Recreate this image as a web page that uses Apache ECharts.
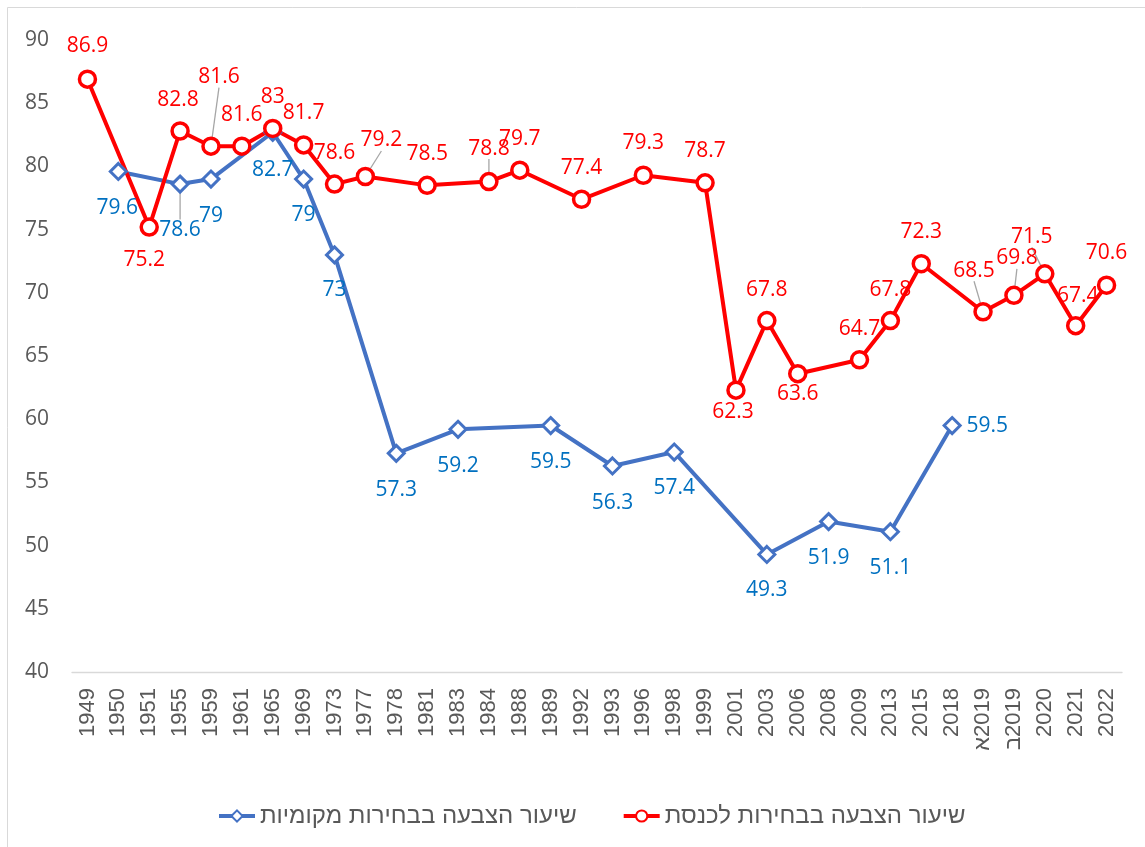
<!DOCTYPE html>
<html>
<head>
<meta charset="utf-8">
<script src="https://cdn.jsdelivr.net/npm/echarts@6/dist/echarts.min.js"></script>
<style>
  html, body { margin: 0; padding: 0; background: #fff; }
  #chart { width: 1145px; height: 847px; }
</style>
</head>
<body>
<div id="chart"></div>
<script>
// election years (x axis)
const years = ['1949', '1950', '1951', '1955', '1959', '1961', '1965', '1969', '1973', '1977',
  '1978', '1981', '1983', '1984', '1988', '1989', '1992', '1993', '1996', '1998',
  '1999', '2001', '2003', '2006', '2008', '2009', '2013', '2015', '2018', '2019א',
  '2019ב', '2020', '2021', '2022']

// turnout in local elections
const localTurnout = [null, 79.6, null, 78.6, 79, null, 82.7, 79, 73, null,
  57.3, null, 59.2, null, null, 59.5, null, 56.3, null, 57.4,
  null, null, 49.3, null, 51.9, null, 51.1, null, 59.5, null,
  null, null, null, null]

// turnout in Knesset elections
const knessetTurnout = [86.9, null, 75.2, 82.8, 81.6, 81.6, 83, 81.7, 78.6, 79.2,
  null, 78.5, null, 78.8, 79.7, null, 77.4, null, 79.3, null,
  78.7, 62.3, 67.8, 63.6, null, 64.7, 67.8, 72.3, null, 68.5,
  69.8, 71.5, 67.4, 70.6]

const localName = 'שיעור הצבעה בבחירות מקומיות'
const knessetName = 'שיעור הצבעה בבחירות לכנסת'

// label placement (shift from marker centre), like the manual placing in the original
const localShift = {
  '1950': [-1, 37], '1955': [0, 46], '1959': [0, 37], '1965': [0, 38], '1969': [0, 36],
  '1973': [0, 35], '1978': [0, 37], '1983': [0, 37], '1989': [0, 36], '1993': [0, 37],
  '1998': [0, 36], '2003': [0, 36], '2008': [0, 36], '2013': [0, 36], '2018': [35, 0]
}
const knessetShift = {
  '1949': [0, -33], '1951': [-5, 33], '1955': [-2, -31], '1959': [8, -69], '1961': [0, -31],
  '1965': [0, -31], '1969': [0, -32], '1973': [0, -31], '1977': [16, -36], '1981': [0, -31],
  '1984': [0, -33], '1988': [0, -31], '1992': [0, -31], '1996': [0, -32], '1999': [0, -32],
  '2001': [-3, 22], '2003': [0, -31], '2006': [0, 20], '2009': [0, -31], '2013': [0, -31],
  '2015': [0, -32], '2019א': [-9, -41], '2019ב': [3, -37], '2020': [-13, -37], '2021': [2, -30],
  '2022': [0, -32]
}
// points whose label has a leader line
const localLeaders = ['1955']
const knessetLeaders = ['1959', '1977', '1984', '2019א', '2019ב', '2020']

const labelFont = '"Open Sans", "Noto Sans", sans-serif'
const axisFont = '"Liberation Sans", Arial, "DejaVu Sans", sans-serif'

function buildData(values, leaders) {
  return values.map((v, i) => {
    if (v == null) return null
    const item = { value: v }
    if (leaders.indexOf(years[i]) >= 0) {
      item.labelLine = { show: true }
    }
    return item
  })
}

const chart = echarts.init(document.getElementById('chart'))

chart.setOption({
  animation: false,
  backgroundColor: '#fff',
  graphic: [{
    type: 'rect',
    silent: true,
    shape: { x: 7.5, y: 7.5, width: 1400, height: 1000 },
    style: { fill: null, stroke: '#d9d9d9', lineWidth: 1 }
  }],
  grid: {
    left: 72,
    right: 23,
    top: 40,
    bottom: 175
  },
  legend: {
    data: [localName, knessetName],
    top: 799,
    left: 212,
    itemWidth: 36,
    itemHeight: 14,
    itemGap: 45,
    lineStyle: { width: 4 },
    textStyle: {
      fontFamily: axisFont,
      fontSize: 24,
      color: '#595959'
    }
  },
  xAxis: {
    type: 'category',
    data: years,
    boundaryGap: true,
    axisLine: { lineStyle: { color: '#d9d9d9', width: 1.3 } },
    axisTick: { show: false },
    axisLabel: {
      interval: 0,
      rotate: 90,
      margin: 16,
      fontFamily: axisFont,
      fontSize: 22,
      color: '#595959',
      formatter: function(v) {
        // Hebrew suffix letters are shown at the start, as in the RTL original
        if (/[\u05D0-\u05EA]$/.test(v)) {
          return v.slice(-1) + '\u200E' + v.slice(0, -1)
        }
        return v
      }
    }
  },
  yAxis: {
    type: 'value',
    min: 40,
    max: 90,
    interval: 5,
    axisLine: { show: false },
    axisTick: { show: false },
    splitLine: { show: false },
    axisLabel: {
      margin: 23,
      fontFamily: labelFont,
      fontSize: 21,
      color: '#595959'
    }
  },
  series: [
    {
      name: localName,
      type: 'line',
      connectNulls: true,
      data: buildData(localTurnout, localLeaders),
      symbol: 'diamond',
      symbolSize: 16,
      lineStyle: { color: '#4472C4', width: 4 },
      itemStyle: { color: '#fff', borderColor: '#4472C4', borderWidth: 3 },
      label: {
        show: true,
        position: 'inside',
        fontFamily: labelFont,
        fontSize: 21,
        color: '#0070C0'
      },
      labelLine: {
        show: false,
        lineStyle: { color: '#a6a6a6', width: 1.3 }
      },
      labelLayout: function(params) {
        const s = localShift[years[params.dataIndex]] || [0, 36]
        return { dx: s[0], dy: s[1] }
      }
    },
    {
      name: knessetName,
      type: 'line',
      connectNulls: true,
      data: buildData(knessetTurnout, knessetLeaders),
      symbol: 'circle',
      symbolSize: 16,
      lineStyle: { color: '#FF0000', width: 4 },
      itemStyle: { color: '#fff', borderColor: '#FF0000', borderWidth: 3.5 },
      label: {
        show: true,
        position: 'inside',
        fontFamily: labelFont,
        fontSize: 21,
        color: '#FF0000'
      },
      labelLine: {
        show: false,
        lineStyle: { color: '#a6a6a6', width: 1.3 }
      },
      labelLayout: function(params) {
        const s = knessetShift[years[params.dataIndex]] || [0, -31]
        return { dx: s[0], dy: s[1] }
      }
    }
  ]
})
</script>
</body>
</html>
